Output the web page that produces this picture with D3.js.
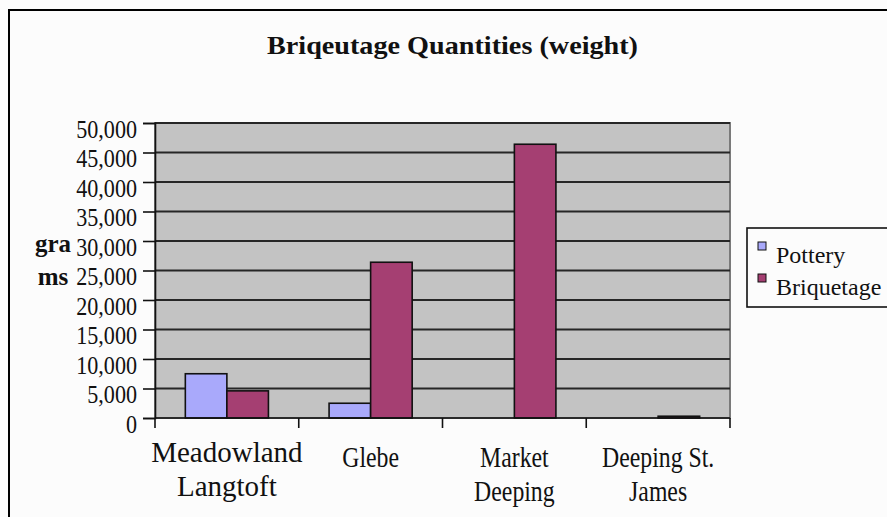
<!DOCTYPE html>
<html>
<head>
<meta charset="utf-8">
<script src="https://cdn.jsdelivr.net/npm/d3@7"></script>
<style>
  html, body { margin: 0; padding: 0; background: #fcfcfc; }
  svg { display: block; }
  text { font-family: "Liberation Serif", "Times New Roman", serif; fill: #111; }
</style>
</head>
<body>
<svg id="chart" width="887" height="517"></svg>
<script>
// Site names (two-line labels) and the two measured series, in grams
const sites = ["Meadowland Langtoft", "Glebe", "Market Deeping", "Deeping St. James"];
const siteLines = [["Meadowland", "Langtoft"], ["Glebe"], ["Market", "Deeping"], ["Deeping St.", "James"]];
const seriesNames = ["Pottery", "Briquetage"];
const pottery = [7500, 2500, 0, 0];
const briquetage = [4600, 26400, 46400, 300];
const yTicks = [0, 5000, 10000, 15000, 20000, 25000, 30000, 35000, 40000, 45000, 50000];

const colors = { Pottery: "#a9a9fb", Briquetage: "#a53f72" };

const svg = d3.select("#chart");
const plot = { left: 155, right: 730, top: 123, bottom: 418 };

// Outer chart frame
svg.append("rect")
  .attr("x", 9).attr("y", 10).attr("width", 920).attr("height", 600)
  .attr("fill", "#fcfcfc").attr("stroke", "#000").attr("stroke-width", 2);

// Title
svg.append("text")
  .attr("x", 452.5).attr("y", 54)
  .attr("text-anchor", "middle")
  .attr("font-size", 26).attr("font-weight", "bold")
  .attr("textLength", 371).attr("lengthAdjust", "spacingAndGlyphs")
  .text("Briqeutage Quantities (weight)");

const x = d3.scaleBand().domain(sites).range([plot.left, plot.right]).padding(0);
const xs = d3.scaleBand().domain(seriesNames).range([0, x.bandwidth()])
  .paddingInner(0).paddingOuter(0.73);
const y = d3.scaleLinear().domain([0, 50000]).range([plot.bottom, plot.top]);

// Plot area
svg.append("rect")
  .attr("x", plot.left).attr("y", plot.top)
  .attr("width", plot.right - plot.left).attr("height", plot.bottom - plot.top)
  .attr("fill", "#c3c3c3").attr("stroke", "#7a7a7a").attr("stroke-width", 2);

// Horizontal gridlines
svg.append("g").selectAll("line")
  .data(yTicks.filter(d => d > 0))
  .join("line")
  .attr("x1", plot.left).attr("x2", plot.right)
  .attr("y1", d => y(d)).attr("y2", d => y(d))
  .attr("stroke", "#262626").attr("stroke-width", 2);

// Bars
const rows = sites.map((s, i) => ({ site: s, values: [
  { key: "Pottery", value: pottery[i] },
  { key: "Briquetage", value: briquetage[i] }
]}));

svg.append("g").selectAll("g")
  .data(rows)
  .join("g")
  .attr("transform", d => `translate(${x(d.site)},0)`)
  .selectAll("rect")
  .data(d => d.values.filter(v => v.value > 0))
  .join("rect")
  .attr("x", v => xs(v.key))
  .attr("y", v => y(v.value))
  .attr("width", xs.bandwidth())
  .attr("height", v => y(0) - y(v.value))
  .attr("fill", v => colors[v.key])
  .attr("stroke", "#111").attr("stroke-width", 1.6);

// Y axis
const yAxis = svg.append("g")
  .attr("transform", `translate(${plot.left},0)`)
  .call(d3.axisLeft(y).tickValues(yTicks).tickFormat(d3.format(",")).tickSizeOuter(0).tickSize(12).tickPadding(6));
yAxis.select(".domain").attr("stroke", "#111").attr("stroke-width", 1.6);
yAxis.selectAll(".tick line").attr("stroke", "#111").attr("stroke-width", 1.6);
yAxis.selectAll(".tick text")
  .attr("font-size", 26)
  .attr("font-family", "Liberation Serif, serif")
  .attr("fill", "#111")
  .attr("dy", "0.85em")
  .attr("y", -8)
  .each(function () {
    const t = d3.select(this);
    const w = this.getComputedTextLength();
    t.attr("textLength", w * 0.85).attr("lengthAdjust", "spacingAndGlyphs");
  });

// X axis with ticks on category boundaries
const xAxisG = svg.append("g");
xAxisG.append("line")
  .attr("x1", plot.left).attr("x2", plot.right)
  .attr("y1", plot.bottom).attr("y2", plot.bottom)
  .attr("stroke", "#111").attr("stroke-width", 1.6);
const boundaries = sites.map(s => x(s) + x.bandwidth()).concat([x(sites[0])]);
xAxisG.selectAll("line.tk")
  .data(boundaries)
  .join("line")
  .attr("class", "tk")
  .attr("x1", d => d).attr("x2", d => d)
  .attr("y1", plot.bottom).attr("y2", plot.bottom + 10)
  .attr("stroke", "#111").attr("stroke-width", 1.6);

// Category labels; the first is set at full width, the rest condensed
const labels = svg.append("g").selectAll("g")
  .data(sites)
  .join("g")
  .attr("transform", (d, i) => `translate(${x(d) + x.bandwidth() / 2},0)`);
labels.each(function (d, i) {
  const g = d3.select(this);
  const squeeze = i === 0 ? 1 : 0.82;
  const base = i === 0 ? 462 : 467;
  siteLines[i].forEach((line, k) => {
    g.append("text")
      .attr("x", 0).attr("y", base + k * 34)
      .attr("text-anchor", "middle")
      .attr("font-size", 29)
      .attr("transform", `scale(${squeeze},1)`)
      .text(line);
  });
});

// Y axis title, split across two lines
["gra", "ms"].forEach((t, k) => {
  svg.append("text")
    .attr("x", 53).attr("y", 252 + k * 33)
    .attr("text-anchor", "middle")
    .attr("font-size", 25).attr("font-weight", "bold")
    .text(t);
});

// Legend
const legend = svg.append("g");
legend.append("rect")
  .attr("x", 747).attr("y", 228).attr("width", 160).attr("height", 79)
  .attr("fill", "#fcfcfc").attr("stroke", "#111").attr("stroke-width", 1.6);
seriesNames.forEach((name, k) => {
  legend.append("rect")
    .attr("x", 758).attr("y", 242 + k * 32).attr("width", 8).attr("height", 8)
    .attr("fill", colors[name]).attr("stroke", "#111").attr("stroke-width", 1);
  legend.append("text")
    .attr("x", 776).attr("y", 263 + k * 32)
    .attr("font-size", 24)
    .text(name);
});
</script>
</body>
</html>
